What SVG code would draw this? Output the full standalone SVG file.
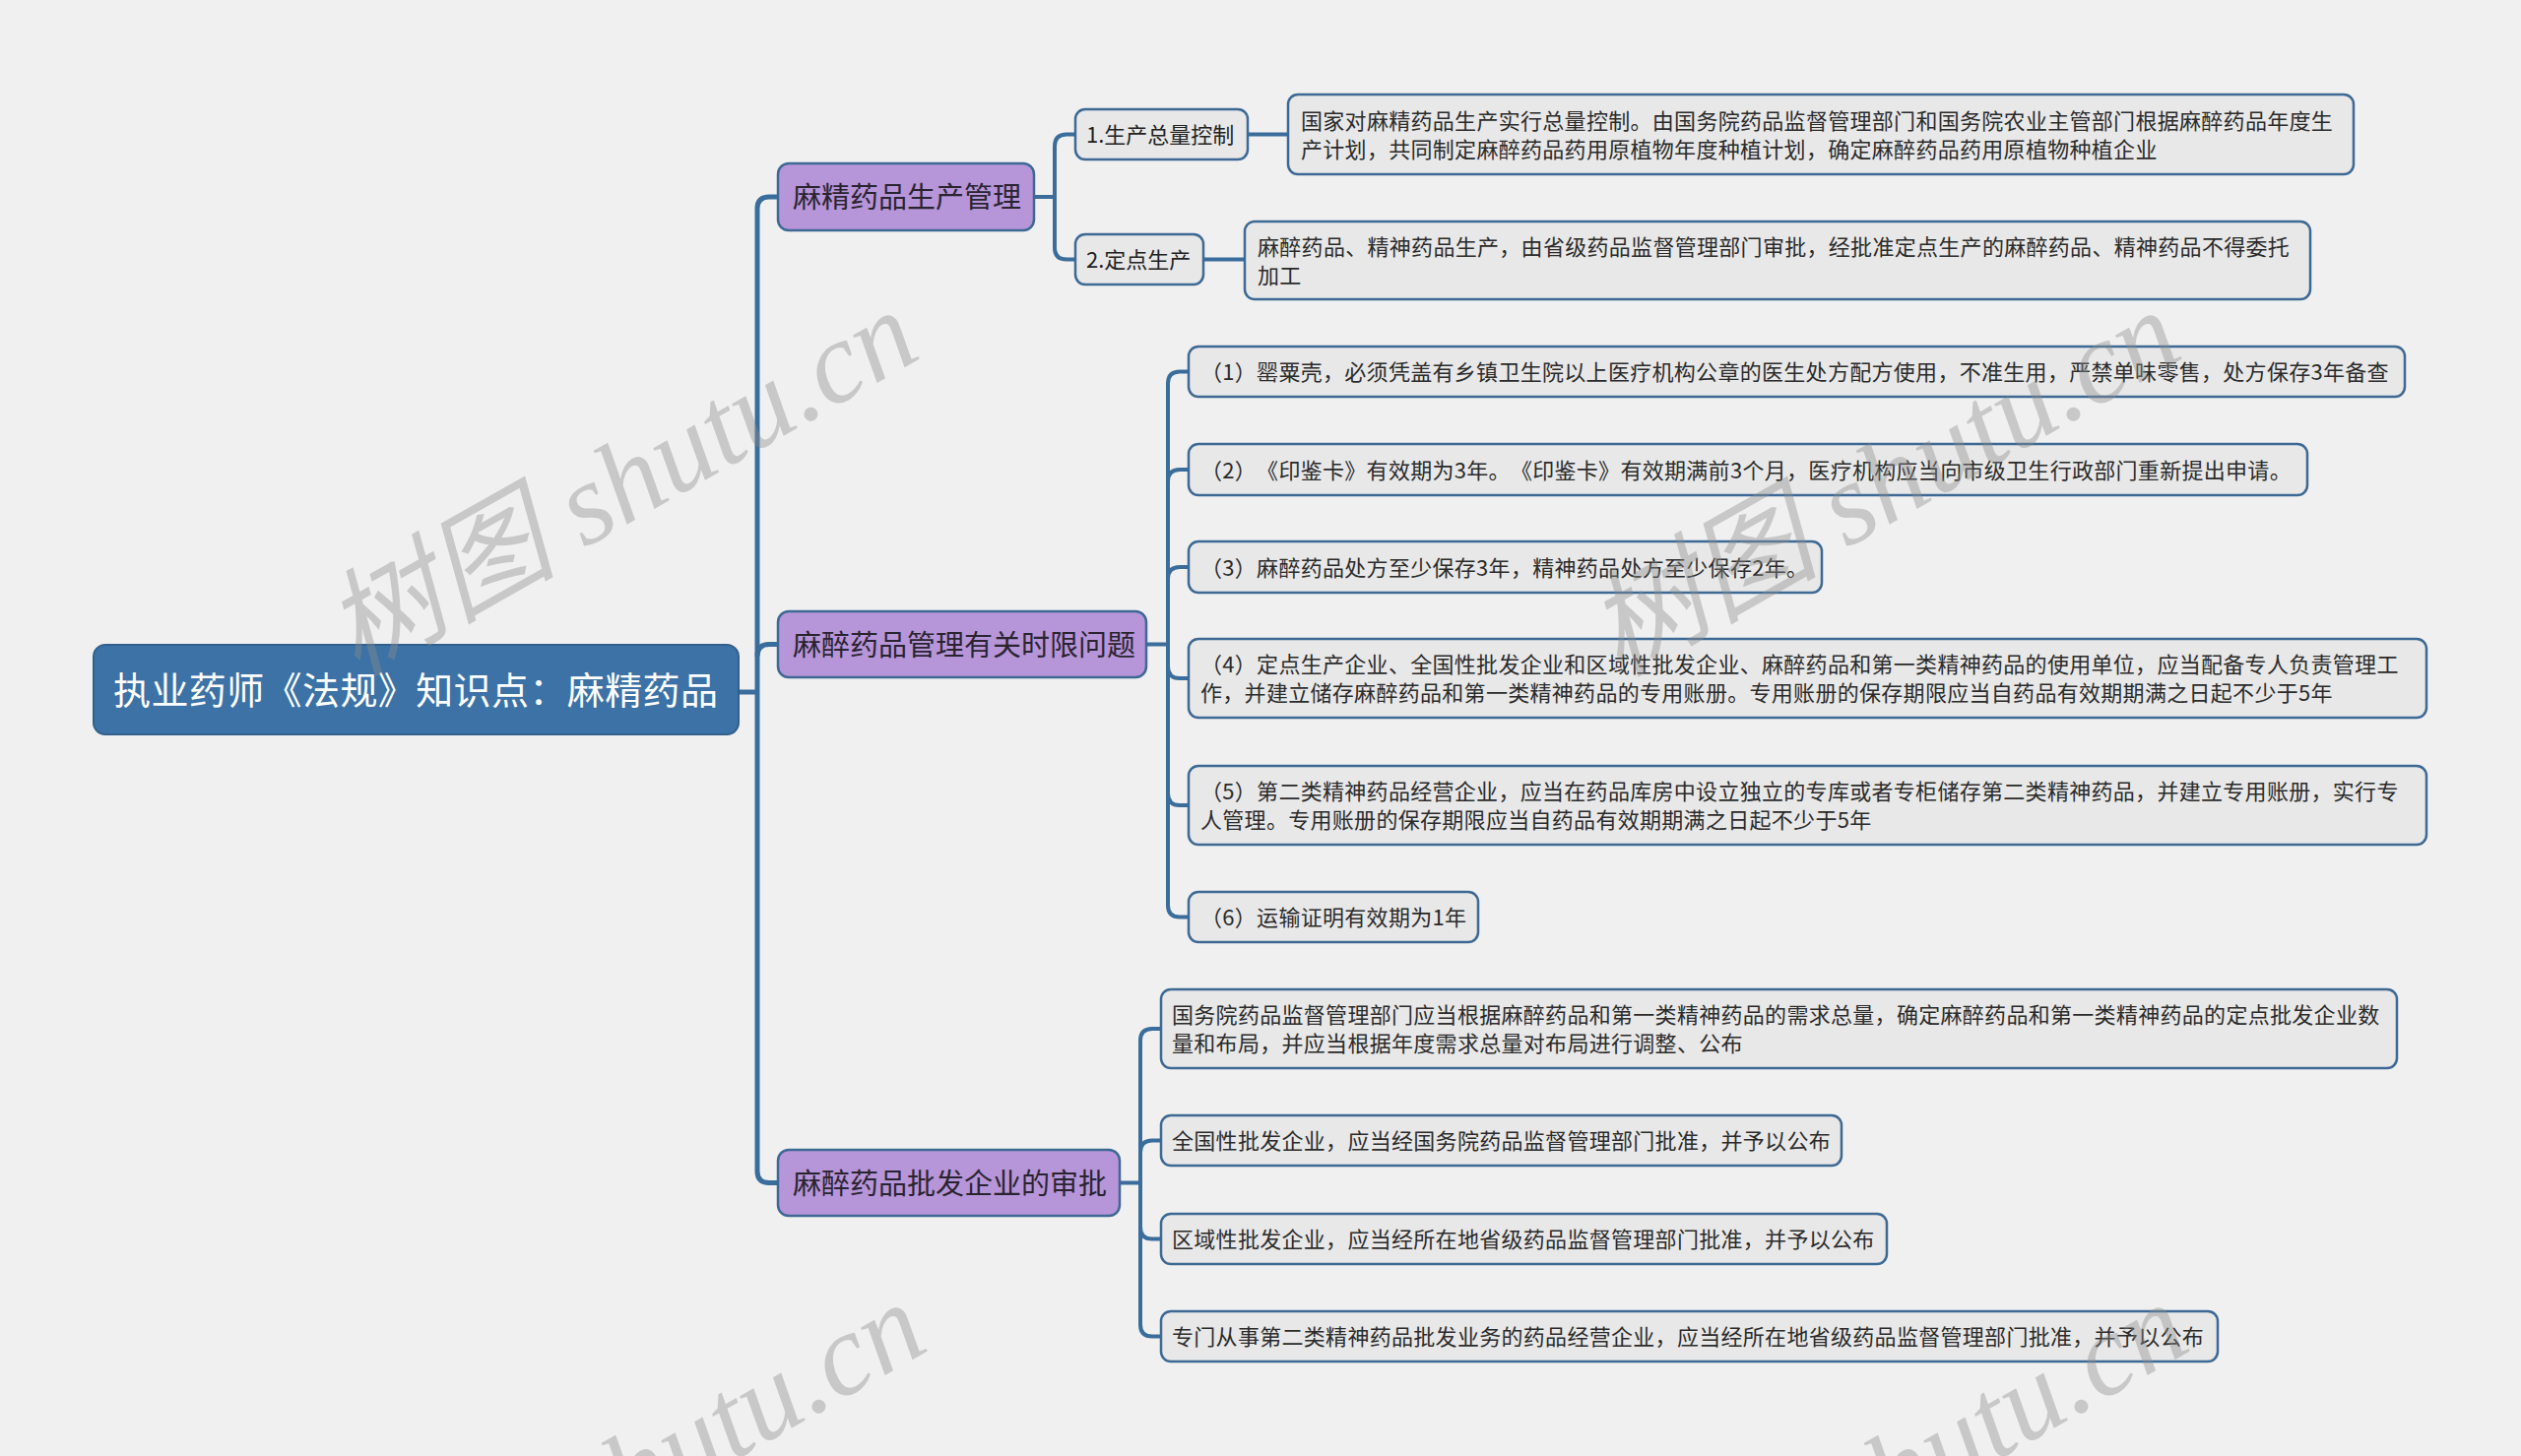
<svg xmlns="http://www.w3.org/2000/svg" width="2560" height="1479" viewBox="0 0 2560 1479">
<style>
text{text-spacing-trim:space-all}
.bg{fill:#f0f0f0}
.root rect{fill:#3c72a5;stroke:#31608c;stroke-width:2}
.root text{fill:#ffffff;font-family:"Noto Sans CJK SC","Noto Sans",sans-serif;font-size:38px;letter-spacing:0.4px}
.l1 rect{fill:#b795d9;stroke:#3d6994;stroke-width:2.5}
.l1 text{fill:#2a2430;font-family:"Noto Sans CJK SC","Noto Sans",sans-serif;font-size:29px}
.l2 rect{fill:#e8e8e8;stroke:#3d6994;stroke-width:2.5}
.l2 text{fill:#222;font-family:"Noto Sans CJK SC","Noto Sans",sans-serif;font-size:22px}
.lf rect{fill:#e8e8e8;stroke:#3d6994;stroke-width:2.5}
.lf text{fill:#2b2b2b;font-family:"Noto Sans CJK SC","Noto Sans",sans-serif;font-size:22px;letter-spacing:0.3px}
.conn path{fill:none;stroke:#3a6d9b;stroke-width:4;stroke-linecap:butt}
.conn path.trunk{stroke-width:5}
.wm{fill:#8c8c8c;fill-opacity:0.4;font-family:"Liberation Serif","Noto Sans CJK SC",serif;font-style:italic;font-size:118px}
</style>
<rect class="bg" x="0" y="0" width="2560" height="1479"/>

<g id="connectors" class="conn">
  <path class="trunk" d="M750,703 H769"/>
  <path class="trunk" d="M790,200 H781 Q769,200 769,212 V1189.5 Q769,1201.5 781,1201.5 H790"/>
  <path class="trunk" d="M769,666.5 Q769,654.5 781,654.5 H790"/>
  <path d="M1050,200 H1071"/>
  <path d="M1092,136.5 H1083 Q1071,136.5 1071,148.5 V251.5 Q1071,263.5 1083,263.5 H1092"/>
  <path d="M1267,136.5 H1308"/>
  <path d="M1222,263.5 H1264"/>
  <path d="M1164,654.5 H1186"/>
  <path d="M1207,377.5 H1198 Q1186,377.5 1186,389.5 V919.5 Q1186,931.5 1198,931.5 H1207"/>
  <path d="M1186,489 Q1186,477 1198,477 H1207"/>
  <path d="M1186,588 Q1186,576 1198,576 H1207"/>
  <path d="M1186,677 Q1186,689 1198,689 H1207"/>
  <path d="M1186,806 Q1186,818 1198,818 H1207"/>
  <path d="M1137,1201.5 H1158"/>
  <path d="M1179,1045 H1170 Q1158,1045 1158,1057 V1345.5 Q1158,1357.5 1170,1357.5 H1179"/>
  <path d="M1158,1170.5 Q1158,1158.5 1170,1158.5 H1179"/>
  <path d="M1158,1246.5 Q1158,1258.5 1170,1258.5 H1179"/>
</g>

<g id="root" class="root">
  <rect x="95" y="655" width="655" height="91" rx="12"/>
  <text x="115" y="715">执业药师《法规》知识点：麻精药品</text>
</g>

<g id="n-a" class="l1">
  <rect x="790" y="166" width="260" height="68" rx="11"/>
  <text x="805" y="211">麻精药品生产管理</text>
</g>
<g id="n-b" class="l1">
  <rect x="790" y="621" width="374" height="67" rx="11"/>
  <text x="805" y="665.5">麻醉药品管理有关时限问题</text>
</g>
<g id="n-c" class="l1">
  <rect x="790" y="1168" width="347" height="67" rx="11"/>
  <text x="805" y="1212.5">麻醉药品批发企业的审批</text>
</g>

<g id="n-a1" class="l2">
  <rect x="1092" y="111" width="175" height="51" rx="10"/>
  <text x="1103" y="145">1.生产总量控制</text>
</g>
<g id="n-a2" class="l2">
  <rect x="1092" y="238" width="130" height="51" rx="10"/>
  <text x="1103" y="272">2.定点生产</text>
</g>

<g id="n-a1-leaf" class="lf">
  <rect x="1308" y="96" width="1082" height="81" rx="10"/>
  <text x="1321" y="131">国家对麻精药品生产实行总量控制。由国务院药品监督管理部门和国务院农业主管部门根据麻醉药品年度生</text>
  <text x="1321" y="160">产计划，共同制定麻醉药品药用原植物年度种植计划，确定麻醉药品药用原植物种植企业</text>
</g>
<g id="n-a2-leaf" class="lf">
  <rect x="1264" y="225" width="1082" height="79" rx="10"/>
  <text x="1277" y="259">麻醉药品、精神药品生产，由省级药品监督管理部门审批，经批准定点生产的麻醉药品、精神药品不得委托</text>
  <text x="1277" y="288">加工</text>
</g>

<g id="n-b1" class="lf">
  <rect x="1207" y="352" width="1235" height="51" rx="10"/>
  <text x="1219" y="386">（1）罂粟壳，必须凭盖有乡镇卫生院以上医疗机构公章的医生处方配方使用，不准生用，严禁单味零售，处方保存3年备查</text>
</g>
<g id="n-b2" class="lf">
  <rect x="1207" y="451" width="1136" height="52" rx="10"/>
  <text x="1219" y="485.5">（2）《印鉴卡》有效期为3年。《印鉴卡》有效期满前3个月，医疗机构应当向市级卫生行政部门重新提出申请。</text>
</g>
<g id="n-b3" class="lf">
  <rect x="1207" y="550" width="643" height="52" rx="10"/>
  <text x="1219" y="584.5">（3）麻醉药品处方至少保存3年，精神药品处方至少保存2年。</text>
</g>
<g id="n-b4" class="lf">
  <rect x="1207" y="649" width="1257" height="80" rx="10"/>
  <text x="1219" y="683">（4）定点生产企业、全国性批发企业和区域性批发企业、麻醉药品和第一类精神药品的使用单位，应当配备专人负责管理工</text>
  <text x="1219" y="712">作，并建立储存麻醉药品和第一类精神药品的专用账册。专用账册的保存期限应当自药品有效期期满之日起不少于5年</text>
</g>
<g id="n-b5" class="lf">
  <rect x="1207" y="778" width="1257" height="80" rx="10"/>
  <text x="1219" y="812">（5）第二类精神药品经营企业，应当在药品库房中设立独立的专库或者专柜储存第二类精神药品，并建立专用账册，实行专</text>
  <text x="1219" y="841">人管理。专用账册的保存期限应当自药品有效期期满之日起不少于5年</text>
</g>
<g id="n-b6" class="lf">
  <rect x="1207" y="906" width="294" height="51" rx="10"/>
  <text x="1219" y="940">（6）运输证明有效期为1年</text>
</g>

<g id="n-c1" class="lf">
  <rect x="1179" y="1005" width="1255" height="80" rx="10"/>
  <text x="1190" y="1039">国务院药品监督管理部门应当根据麻醉药品和第一类精神药品的需求总量，确定麻醉药品和第一类精神药品的定点批发企业数</text>
  <text x="1190" y="1068">量和布局，并应当根据年度需求总量对布局进行调整、公布</text>
</g>
<g id="n-c2" class="lf">
  <rect x="1179" y="1133" width="691" height="51" rx="10"/>
  <text x="1190" y="1167">全国性批发企业，应当经国务院药品监督管理部门批准，并予以公布</text>
</g>
<g id="n-c3" class="lf">
  <rect x="1179" y="1233" width="737" height="51" rx="10"/>
  <text x="1190" y="1267">区域性批发企业，应当经所在地省级药品监督管理部门批准，并予以公布</text>
</g>
<g id="n-c4" class="lf">
  <rect x="1179" y="1332" width="1073" height="51" rx="10"/>
  <text x="1190" y="1366">专门从事第二类精神药品批发业务的药品经营企业，应当经所在地省级药品监督管理部门批准，并予以公布</text>
</g>

<g id="watermarks">
  <text class="wm" transform="translate(362,688) rotate(-29.5)">树图 shutu.cn</text>
  <text class="wm" transform="translate(1644,688) rotate(-29.5)">树图 shutu.cn</text>
  <text class="wm" transform="translate(370,1696) rotate(-29.5)">树图 shutu.cn</text>
  <text class="wm" transform="translate(1652,1696) rotate(-29.5)">树图 shutu.cn</text>
</g>
</svg>
